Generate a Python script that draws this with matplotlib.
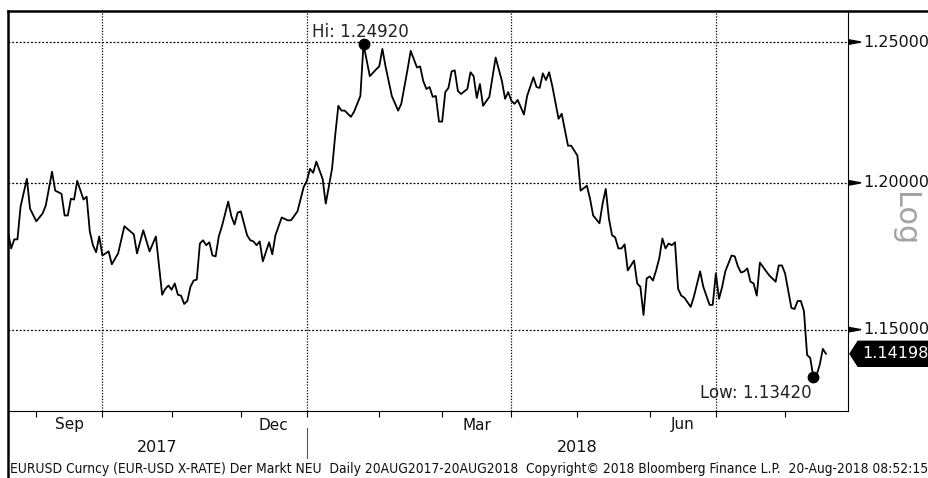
import numpy as np
import pandas as pd
import matplotlib
matplotlib.use('Agg')
import matplotlib.pyplot as plt
from matplotlib.lines import Line2D
from matplotlib.patches import Polygon
import matplotlib.transforms as mtransforms

plt.rcParams['font.family'] = ['DejaVu Sans']

start = '2017-08-21'

# weekday number since 21 Aug 2017 (Bloomberg plots weekdays) and EURUSD close
day = [0, 1, 2, 3, 4, 6, 7, 9, 11, 12,
       14, 15, 17, 18, 19, 20, 21, 22, 24, 25,
       26, 27, 28, 29, 30, 32, 33, 35, 37, 40,
       41, 43, 45, 47, 49, 50, 51, 52, 53, 54,
       55, 56, 57, 58, 59, 60, 61, 62, 63, 64,
       65, 66, 67, 68, 70, 71, 72, 73, 74, 76,
       77, 78, 79, 80, 81, 83, 84, 85, 87, 89,
       90, 92, 94, 95, 96, 97, 98, 100, 101, 103,
       104, 105, 106, 107, 109, 110, 112, 113, 115, 117,
       118, 119, 120, 122, 124, 125, 127, 128, 130, 131,
       132, 133, 134, 135, 136, 137, 138, 139, 140, 141,
       142, 143, 144, 146, 147, 148, 149, 150, 151, 153,
       155, 157, 158, 159, 160, 161, 162, 164, 165, 167,
       168, 169, 170, 171, 172, 173, 175, 176, 178, 179,
       181, 182, 184, 185, 186, 188, 189, 190, 191, 192,
       193, 194, 195, 196, 197, 199, 200, 201, 202, 203,
       204, 205, 206, 207, 208, 209, 210, 211, 212, 213,
       214, 215, 217, 218, 220, 221, 223, 224, 225, 226,
       227, 228, 230, 231, 232, 233, 234, 235, 236, 237,
       238, 239, 241, 242, 244, 245, 246, 247, 249, 250,
       251, 252, 253, 254, 255, 256, 257, 258, 259, 260]

rate = [1.1831, 1.1774, 1.1805, 1.1805, 1.1918, 1.2014, 1.1911, 1.1867, 1.1894, 1.1921,
        1.2039, 1.1973, 1.1962, 1.1887, 1.1887, 1.1945, 1.1942, 1.2007, 1.1942, 1.1952,
        1.1832, 1.1785, 1.1761, 1.1815, 1.1750, 1.1764, 1.1720, 1.1757, 1.1850, 1.1822,
        1.1757, 1.1836, 1.1764, 1.1815, 1.1617, 1.1637, 1.1648, 1.1634, 1.1655, 1.1617,
        1.1614, 1.1586, 1.1596, 1.1644, 1.1665, 1.1668, 1.1791, 1.1802, 1.1785, 1.1795,
        1.1750, 1.1747, 1.1815, 1.1850, 1.1935, 1.1884, 1.1856, 1.1897, 1.1901, 1.1819,
        1.1802, 1.1798, 1.1785, 1.1798, 1.1730, 1.1795, 1.1754, 1.1819, 1.1880, 1.1870,
        1.1871, 1.1901, 1.1986, 1.2007, 1.2049, 1.2035, 1.2074, 1.2014, 1.1928, 1.2049,
        1.2166, 1.2271, 1.2254, 1.2254, 1.2232, 1.2250, 1.2306, 1.2492, 1.2377, 1.2401,
        1.2412, 1.2475, 1.2412, 1.2306, 1.2254, 1.2278, 1.2401, 1.2468, 1.2408, 1.2412,
        1.2359, 1.2331, 1.2338, 1.2303, 1.2306, 1.2215, 1.2215, 1.2320, 1.2335, 1.2394,
        1.2398, 1.2324, 1.2313, 1.2331, 1.2391, 1.2377, 1.2299, 1.2349, 1.2271, 1.2303,
        1.2444, 1.2359, 1.2296, 1.2320, 1.2289, 1.2278, 1.2292, 1.2240, 1.2306, 1.2373,
        1.2338, 1.2335, 1.2387, 1.2363, 1.2391, 1.2342, 1.2225, 1.2243, 1.2130, 1.2130,
        1.2095, 1.1973, 1.1990, 1.1945, 1.1887, 1.1860, 1.1928, 1.1979, 1.1877, 1.1819,
        1.1812, 1.1774, 1.1774, 1.1788, 1.1699, 1.1733, 1.1655, 1.1644, 1.1549, 1.1672,
        1.1679, 1.1665, 1.1699, 1.1740, 1.1808, 1.1774, 1.1791, 1.1785, 1.1795, 1.1637,
        1.1614, 1.1607, 1.1576, 1.1610, 1.1696, 1.1644, 1.1583, 1.1583, 1.1689, 1.1603,
        1.1644, 1.1696, 1.1750, 1.1747, 1.1713, 1.1692, 1.1696, 1.1706, 1.1661, 1.1655,
        1.1614, 1.1726, 1.1696, 1.1682, 1.1661, 1.1716, 1.1716, 1.1689, 1.1573, 1.1569,
        1.1596, 1.1596, 1.1562, 1.1416, 1.1406, 1.1342, 1.1349, 1.1383, 1.1436, 1.14198]

hi_day, hi_rate = 113, 1.24920
low_day, low_rate = 256, 1.13420
last_rate = 1.14198

y_ticks = [1.15, 1.20, 1.25]
month_starts = pd.date_range('2017-09-01', '2018-08-01', freq='MS')
label_months = ['2017-09-01', '2017-12-01', '2018-03-01', '2018-06-01']
grid_months = ['2017-10-01', '2018-01-01', '2018-04-01', '2018-07-01']
years = ['2017', '2018']

footer = ('EURUSD Curncy (EUR-USD X-RATE) Der Markt NEU  Daily 20AUG2017-20AUG2018  '
          'Copyright\u00a9 2018 Bloomberg Finance L.P.  20-Aug-2018 08:52:15')


def bday(d):
    return np.busday_count(start, pd.Timestamp(d).strftime('%Y-%m-%d'))


W, H = 929, 478
fig = plt.figure(figsize=(W / 100, H / 100), dpi=100)
ax = fig.add_axes([8 / W, (H - 411) / H, 840 / W, 400 / H])

ax.plot(day, rate, color='black', lw=1.3, zorder=3)
ax.set_yscale('log')
ymin, ymax = 1.1232, 1.2613
ax.set_ylim(ymin, ymax)
ax.set_xlim(0, 267)

# grid
for v in y_ticks:
    ax.axhline(v, color='black', lw=0.9, ls=(0, (1.5, 1.5)), zorder=1)
for m in grid_months:
    ax.axvline(bday(m), color='black', lw=0.9, ls=(0, (1, 1.3)), zorder=1)

# x axis ticks and labels
ax.set_xticks([bday(m) for m in month_starts])
ax.set_xticklabels([])
ax.tick_params(axis='x', direction='out', length=4, width=0.8, color='black')
ax.set_yticks([])
ax.yaxis.set_minor_locator(matplotlib.ticker.NullLocator())

for m in label_months:
    a = bday(m)
    b = bday(pd.Timestamp(m) + pd.offsets.MonthBegin(1))
    ax.text((a + b) / 2, -14 / 400, pd.Timestamp(m).strftime('%b'),
            transform=ax.get_xaxis_transform(), ha='center', va='center',
            fontsize=11, color='#111111')

jan = bday('2018-01-01')
ax.text(jan / 2, -36 / 400, years[0], transform=ax.get_xaxis_transform(),
        ha='center', va='center', fontsize=11.5, color='#111111')
ax.text((jan + 267) / 2, -36 / 400, years[1], transform=ax.get_xaxis_transform(),
        ha='center', va='center', fontsize=11.5, color='#111111')
ax.plot([jan, jan], [-17 / 400, -47 / 400], transform=ax.get_xaxis_transform(),
        color='#555555', lw=0.8, clip_on=False)

for s in ['left', 'top']:
    ax.spines[s].set_visible(False)
for s in ['right', 'bottom']:
    ax.spines[s].set_linewidth(0.8)
    ax.spines[s].set_color('black')

# outer frame (thick left and top)
fig.add_artist(Line2D([8 / W, 8 / W], [0, (H - 11) / H], color='black', lw=1.8))
fig.add_artist(Line2D([8 / W, 1], [(H - 11) / H, (H - 11) / H], color='black', lw=1.8))


def yfrac(v):
    return (np.log(v) - np.log(ymin)) / (np.log(ymax) - np.log(ymin))


def px_trans(v):
    return fig.dpi_scale_trans + mtransforms.ScaledTranslation(1.0, yfrac(v), ax.transAxes)


# right-hand tick labels with pointers
for v in y_ticks:
    tr = px_trans(v)
    ax.add_patch(Polygon(np.array([[1, 2.2], [13, 0], [1, -2.2]]) / 100, closed=True,
                         transform=tr, color='black', clip_on=False))
    ax.text(15 / 100, 0, f'{v:.5f}', transform=tr, ha='left', va='center',
            fontsize=11.5, color='#111111')

# last price tag
tr = px_trans(last_rate)
ax.add_patch(Polygon(np.array([[2, 0], [10, 12.5], [90, 12.5], [90, -12.5], [10, -12.5]]) / 100,
                     closed=True, transform=tr, color='black', clip_on=False))
ax.text(14 / 100, 0, f'{last_rate:.5f}', transform=tr, ha='left', va='center',
        fontsize=11.5, color='white')

# Log label
fig.text(905 / W, (H - 219) / H, 'Log', rotation=270,
         ha='center', va='center', fontsize=22, color='#a3a3a3')

# high / low markers
ax.plot([hi_day], [hi_rate], 'o', color='black', ms=7.5, zorder=4, clip_on=False)
ax.annotate(f'Hi: {hi_rate:.5f}', (hi_day, hi_rate), xytext=(-52, 12),
            textcoords='offset pixels', ha='left', va='center', fontsize=12, color='#222222')
ax.plot([low_day], [low_rate], 'o', color='black', ms=7.5, zorder=4)
ax.annotate(f'Low: {low_rate:.5f}', (low_day, low_rate), xytext=(-2, -16),
            textcoords='offset pixels', ha='right', va='center', fontsize=12, color='#222222')

fig.text(10 / W, (H - 469) / H, footer, ha='left', va='center', fontsize=9.9,
         fontstretch='condensed', color='#111111')

fig.savefig('out.png', dpi=100)
